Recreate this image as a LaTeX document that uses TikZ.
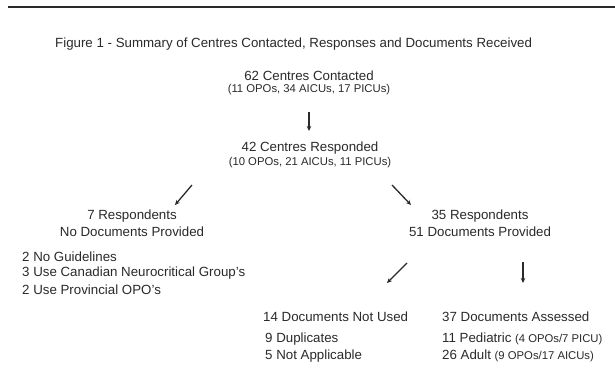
\documentclass[tikz,border=0pt]{standalone}
\usepackage{fontspec}
\setmainfont{Liberation Sans}
\usetikzlibrary{arrows.meta}
\definecolor{ink}{HTML}{2A2A2A}
\begin{document}
\begin{tikzpicture}[x=1pt,y=-1pt,
  txt/.style={inner sep=0pt,font=\fontsize{13.3}{15}\selectfont,text=ink},
  sm/.style={inner sep=0pt,font=\fontsize{11.3}{13}\selectfont,text=ink},
  arr/.style={line width=1.3pt,-{Stealth[length=5pt,width=4.5pt]},ink}]
\useasboundingbox (0,0) rectangle (615,391);
\fill[white] (0,0) rectangle (615,391);
\coordinate (rl) at (8,7);
\coordinate (rr) at (615,7);
\draw[line width=1.4pt,ink] (rl) -- (rr);
\node[txt,anchor=west] (title) at (55,44) {Figure 1 - Summary of Centres Contacted, Responses and Documents Received};
\node[txt] (c62) at (309,76) {62 Centres Contacted};
\node[sm] (c62s) at (309,90) {(11 OPOs, 34 AICUs, 17 PICUs)};
\node[txt] (c42) at (310,148) {42 Centres Responded};
\node[sm] (c42s) at (310,163) {(10 OPOs, 21 AICUs, 11 PICUs)};
\node[txt] (r7a) at (132,216) {7 Respondents};
\node[txt] (r7b) at (132,232) {No Documents Provided};
\node[txt] (r35a) at (480,216) {35 Respondents};
\node[txt] (r35b) at (480,232) {51 Documents Provided};
\node[txt,anchor=west] (l1) at (22,257) {2 No Guidelines};
\node[txt,anchor=west] (l2) at (22,273.5) {3 Use Canadian Neurocritical Group's};
\node[txt,anchor=west] (l3) at (22,290) {2 Use Provincial OPO's};
\node[txt,anchor=west] (nu) at (263,317) {14 Documents Not Used};
\node[txt,anchor=west] (du) at (265,339) {9 Duplicates};
\node[txt,anchor=west] (na) at (265,356) {5 Not Applicable};
\node[txt,anchor=west] (as) at (442,317) {37 Documents Assessed};
\node[txt,anchor=west] (pe) at (442,339) {11 Pediatric {\fontsize{11.3}{13}\selectfont(4 OPOs/7 PICU)}};
\node[txt,anchor=west] (ad) at (442,356) {26 Adult {\fontsize{11.3}{13}\selectfont(9 OPOs/17 AICUs)}};
\coordinate (a1s) at (309,112); \coordinate (a1e) at (309,131);
\coordinate (a2s) at (192,185); \coordinate (a2e) at (175,205);
\coordinate (a3s) at (392,185); \coordinate (a3e) at (411,205);
\coordinate (a4s) at (407,263); \coordinate (a4e) at (387,283);
\coordinate (a5s) at (523,262); \coordinate (a5e) at (523,283);
\draw[arr] (a1s) -- (a1e);
\draw[arr] (a2s) -- (a2e);
\draw[arr] (a3s) -- (a3e);
\draw[arr] (a4s) -- (a4e);
\draw[arr] (a5s) -- (a5e);
\end{tikzpicture}
\end{document}
